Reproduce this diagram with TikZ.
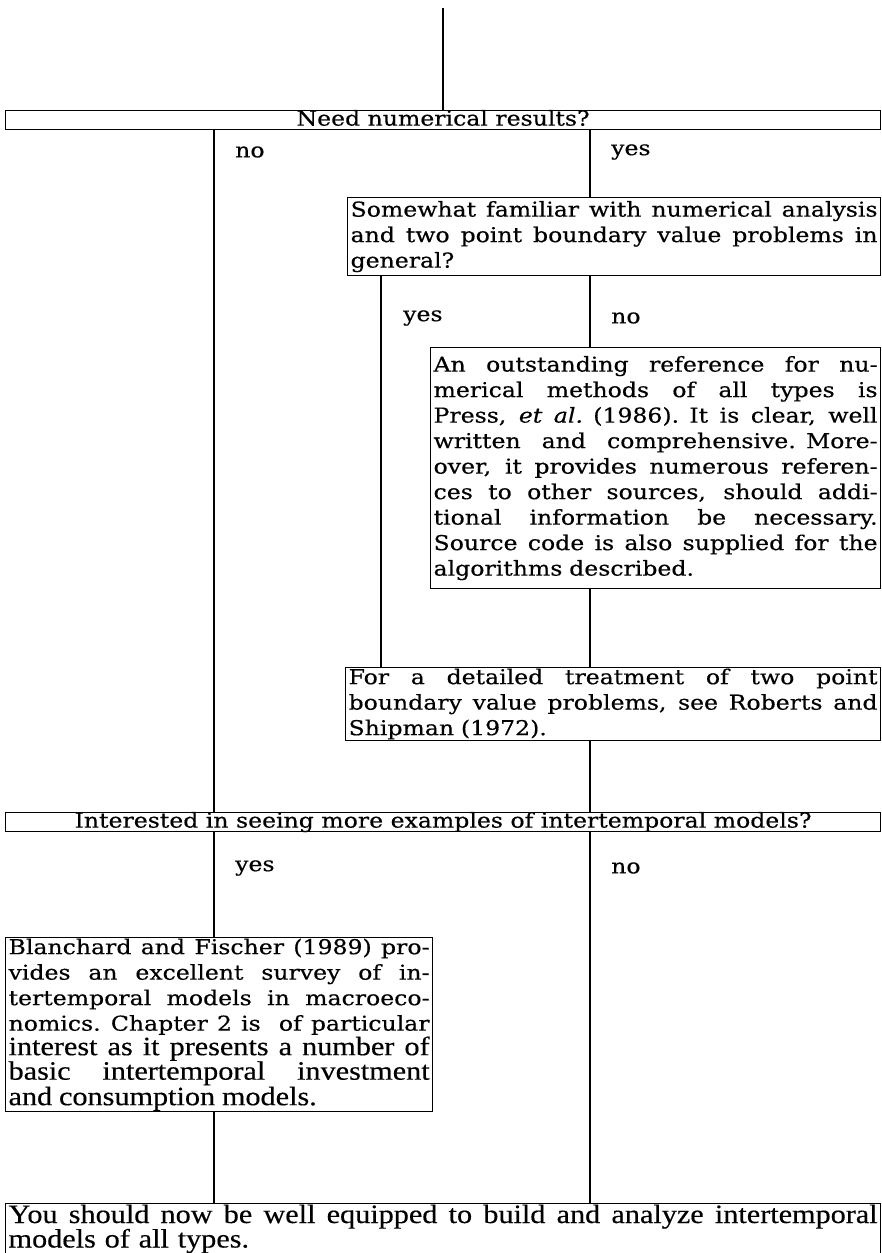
\documentclass[tikz,border=0pt]{standalone}
\usepackage{fontspec}
\newfontfamily\bk[FakeStretch=1.15,FakeBold=0.4]{DejaVu Serif}
\newfontfamily\tm[FakeStretch=1.14,FakeBold=0.4]{Liberation Serif}
\newlength{\jw}
\newcommand{\jl}[1]{\leavevmode\hbox to \jw{\spaceskip=\fontdimen2\font plus 1fil minus \fontdimen4\font\relax #1}\\}
\tikzset{
  box/.style={draw, line width=1.2pt, anchor=north west, inner xsep=3pt, inner ysep=1pt,
    align=left, font=\bk\fontsize{20.5}{25.5}\selectfont},
  onebox/.style={box, align=center, text height=15pt, text depth=4pt, inner ysep=0pt},
  lbl/.style={anchor=west, inner sep=0pt, font=\bk\fontsize{20.5}{22}\selectfont},
  conn/.style={line width=1.4pt}
}
\begin{document}
\begin{tikzpicture}[x=1pt,y=-1pt]
\useasboundingbox (0,0) rectangle (882,1253);
% boxes
\node[onebox, minimum width=875pt] (A) at (5,110) {Need numerical results?};
\node[box, text width=527pt, minimum height=78pt] (B) at (347,197) {\setlength{\jw}{527pt}%
\jl{Somewhat familiar with numerical analysis}
\jl{and two point boundary value problems in}
general?};
\node[box, text width=444pt, minimum height=241pt] (C) at (430,347) {\setlength{\jw}{444pt}%
\jl{An outstanding reference for nu-}
\jl{merical methods of all types is}
\jl{Press, \textit{et al.} (1986). It is clear, well}
\jl{written and comprehensive. More-}
\jl{over, it provides numerous referen-}
\jl{ces to other sources, should addi-}
\jl{tional information be necessary.}
\jl{Source code is also supplied for the}
algorithms described.};
\node[box, text width=529pt, minimum height=61pt] (D) at (345,667) {\setlength{\jw}{529pt}%
\jl{For a detailed treatment of two point}
\jl{boundary value problems, see Roberts and}
Shipman (1972).};
\node[onebox, minimum width=875pt] (E) at (5,812) {Interested in seeing more examples of intertemporal models?};
\node[box, text width=421pt, minimum height=166pt] (F) at (5,937) {\setlength{\jw}{421pt}%
\jl{Blanchard and Fischer (1989) pro-}
\jl{vides an excellent survey of in-}
\jl{tertemporal models in macroeco-}
\jl{nomics. Chapter 2 is\ \ of particular}
{\tm\fontsize{26.5}{24.5}\selectfont\jl{interest as it presents a number of}
\jl{basic intertemporal investment}
and consumption models.}};
\node[box, text width=869pt, minimum height=49pt, font=\tm\fontsize{26.5}{24.5}\selectfont] (G) at (5,1203) {\setlength{\jw}{869pt}%
\jl{You should now be well equipped to build and analyze intertemporal}
models of all types.};
% labels
\node[lbl] (n1) at (235,152) {no};
\node[lbl] (y1) at (611,152) {yes};
\node[lbl] (y2) at (403,318) {yes};
\node[lbl] (n2) at (611,318) {no};
\node[lbl] (y3) at (235,868) {yes};
\node[lbl] (n3) at (611,868) {no};
% connectors
\coordinate (top) at (443,8);
\coordinate (xl) at (214,0);
\coordinate (xr) at (590,0);
\coordinate (xm) at (381,0);
\draw[conn] (top) -- (top |- A.north);
\draw[conn] (xl |- A.south) -- (xl |- E.north);
\draw[conn] (xr |- A.south) -- (xr |- B.north);
\draw[conn] (xm |- B.south) -- (xm |- D.north);
\draw[conn] (xr |- B.south) -- (xr |- C.north);
\draw[conn] (xr |- C.south) -- (xr |- D.north);
\draw[conn] (xr |- D.south) -- (xr |- E.north);
\draw[conn] (xl |- E.south) -- (xl |- F.north);
\draw[conn] (xl |- F.south) -- (xl |- G.north);
\draw[conn] (xr |- E.south) -- (xr |- G.north);
\end{tikzpicture}
\end{document}
